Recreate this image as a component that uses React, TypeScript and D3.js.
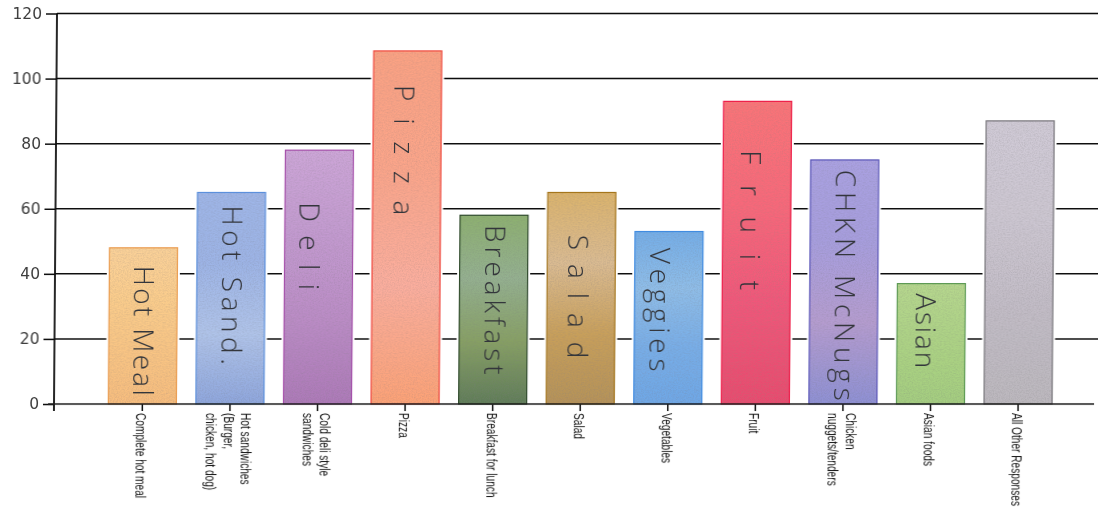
import React, { useEffect, useRef } from "react";
import * as d3 from "d3";

const categories = [
  ["Complete hot meal"],
  ["Hot sandwiches", "(Burger,", "chicken, hot dog)"],
  ["Cold deli style", "sandwiches"],
  ["Pizza"],
  ["Breakfast for lunch"],
  ["Salad"],
  ["Vegetables"],
  ["Fruit"],
  ["Chicken", "nuggets/tenders"],
  ["Asian foods"],
  ["All Other Responses"],
];
const values = [48, 65, 78, 108.5, 58, 65, 53, 93, 75, 37, 87];
const yTicks = [0, 20, 40, 60, 80, 100, 120];
const handNotes = ["Hot Meal", "Hot Sand.", "Deli", "Pizza", "Breakfast", "Salad", "Veggies", "Fruit", "CHKN McNugs", "Asian", ""];

// hand written labels: offset from bar center, from/to in y axis units
const noteDx = [2, 2, -8, -2, 2, -2, -8, -5, 2, -4, 0];
const noteFrom = [42.5, 61, 62, 98, 55, 52, 48, 78, 72, 34, 0];
const noteTo = [2.5, 12, 35, 58, 9, 14, 10, 35, 1, 11, 0];

// top to bottom colour bands of each marker-coloured bar
const barStops = [
  ["#fad199", "#fbcd8c", "#f9c584", "#f7bd7e"],
  ["#9fb6e8", "#9db4e6", "#b0c4ea", "#8ea6dd"],
  ["#cda6d8", "#c39ad0", "#bb8cc6", "#ad79b8"],
  ["#fba283", "#fba58a", "#fbae9e", "#fca276"],
  ["#8db070", "#94b090", "#87a064", "#5f7c58"],
  ["#dcb46c", "#dabb92", "#c9a05a", "#b59258"],
  ["#74aee8", "#8fbde8", "#78aee8", "#6ea7e6"],
  ["#fa7478", "#f8687a", "#f0567a", "#e84a6e"],
  ["#aaa1e2", "#a79ede", "#b59cd0", "#8e90d4"],
  ["#b6d78e", "#b0d488", "#aad282", "#a4cd80"],
  ["#d0cad6", "#cdc7d2", "#c2bcc6", "#bcb8be"],
];
const barEdges = ["#ea9c50", "#5c90dc", "#a550aa", "#ef4a40", "#2f4a2c", "#a5761f", "#3f8be0", "#ee1f4a", "#5a55b8", "#5d9a55", "#77757a"];

const App = () => {
  const chartRef = useRef<SVGSVGElement | null>(null);

  useEffect(() => {
    if (!chartRef.current) return;
    const svg = d3.select(chartRef.current);
    svg.selectAll("*").remove();

    const width = 1098;
    const axisLeft = 54;
    const baseY = 404;

    const xScale = d3
      .scaleBand<number>()
      .domain(values.map((_, i) => i))
      .range([98.7, 1061.7])
      .paddingInner(0.223)
      .paddingOuter(0.11);
    const yScale = d3.scaleLinear().domain([0, 120]).range([baseY, 13.5]);

    const defs = svg.append("defs");
    const scan = defs.append("filter").attr("id", "scan");
    scan.append("feGaussianBlur").attr("stdDeviation", 0.35);

    const grain = defs.append("filter").attr("id", "grain").attr("x", 0).attr("y", 0).attr("width", 1).attr("height", 1);
    grain
      .append("feTurbulence")
      .attr("type", "fractalNoise")
      .attr("baseFrequency", 0.75)
      .attr("numOctaves", 2)
      .attr("seed", 4)
      .attr("result", "n");
    grain
      .append("feColorMatrix")
      .attr("in", "n")
      .attr("type", "matrix")
      .attr("values", "0 0 0 0 0.2  0 0 0 0 0.2  0 0 0 0 0.2  0 0 0 0.55 -0.2")
      .attr("result", "spots");
    grain.append("feComposite").attr("in", "spots").attr("in2", "SourceGraphic").attr("operator", "in").attr("result", "clipped");
    const merge = grain.append("feMerge");
    merge.append("feMergeNode").attr("in", "SourceGraphic");
    merge.append("feMergeNode").attr("in", "clipped");

    barStops.forEach((stops, i) => {
      const grad = defs
        .append("linearGradient")
        .attr("id", `bar-${i}`)
        .attr("x1", 0)
        .attr("x2", 0)
        .attr("y1", 0)
        .attr("y2", 1);
      stops.forEach((c, j) => {
        grad
          .append("stop")
          .attr("offset", j / (stops.length - 1))
          .attr("stop-color", c);
      });
    });

    // the page was scanned slightly crooked, top leans to the right
    const g = svg
      .append("g")
      .attr("filter", "url(#scan)")
      .attr("transform", `matrix(1,0,-0.0077,1,${0.0077 * baseY},0)`);

    // Y axis and grid
    const yAxis = g
      .append("g")
      .attr("transform", `translate(${axisLeft}, 0)`)
      .call(d3.axisLeft(yScale).tickValues(yTicks).tickSize(11).tickSizeOuter(0).tickPadding(4))
      .attr("color", "#111");
    yAxis.select(".domain").remove();
    yAxis
      .selectAll(".tick text")
      .attr("font-family", "DejaVu Sans")
      .attr("font-size", 15.5)
      .attr("fill", "#3c3c3c");
    yAxis.selectAll(".tick line").attr("stroke-width", 1.5);

    g.append("g")
      .selectAll(".grid")
      .data(yTicks.filter((d) => d > 0))
      .enter()
      .append("line")
      .attr("class", "grid")
      .attr("x1", axisLeft)
      .attr("x2", width)
      .attr("y1", (d) => yScale(d))
      .attr("y2", (d) => yScale(d))
      .attr("stroke", "#111")
      .attr("stroke-width", 1.5);

    g.append("line")
      .attr("x1", axisLeft)
      .attr("x2", axisLeft)
      .attr("y1", yScale(120))
      .attr("y2", baseY + 7)
      .attr("stroke", "#111")
      .attr("stroke-width", 1.8);

    // Bars, white halo first so the grid stops short of them
    g.append("g")
      .selectAll("rect")
      .data(values)
      .enter()
      .append("rect")
      .attr("x", (_, i) => xScale(i)!)
      .attr("y", (d) => yScale(d))
      .attr("width", xScale.bandwidth())
      .attr("height", (d) => baseY - yScale(d))
      .attr("fill", "#fff")
      .attr("stroke", "#fff")
      .attr("stroke-width", 5);

    g.append("g")
      .selectAll("rect")
      .data(values)
      .enter()
      .append("rect")
      .attr("x", (_, i) => xScale(i)!)
      .attr("y", (d) => yScale(d))
      .attr("width", xScale.bandwidth())
      .attr("height", (d) => baseY - yScale(d))
      .attr("fill", (_, i) => `url(#bar-${i})`)
      .attr("filter", "url(#grain)");

    g.append("g")
      .selectAll("rect")
      .data(values)
      .enter()
      .append("rect")
      .attr("x", (_, i) => xScale(i)!)
      .attr("y", (d) => yScale(d))
      .attr("width", xScale.bandwidth())
      .attr("height", (d) => baseY - yScale(d))
      .attr("fill", "none")
      .attr("stroke", (_, i) => barEdges[i])
      .attr("stroke-width", 1.2);

    // Hand written names on the bars
    g.append("g")
      .selectAll("text")
      .data(handNotes.filter((d) => d))
      .enter()
      .append("text")
      .text((d) => d)
      .attr(
        "transform",
        (_, i) => `translate(${xScale(i)! + xScale.bandwidth() / 2 + noteDx[i]}, ${yScale(noteFrom[i])}) rotate(90)`,
      )
      .attr("dominant-baseline", "central")
      .attr("textLength", (_, i) => yScale(noteTo[i]) - yScale(noteFrom[i]))
      .attr("lengthAdjust", "spacing")
      .attr("font-family", "Open Sans")
      .attr("font-weight", 300)
      .attr("font-size", 28)
      .attr("fill", "#33353a");

    // X axis
    const xAxis = g
      .append("g")
      .attr("transform", `translate(0, ${baseY})`)
      .call(
        d3
          .axisBottom(xScale)
          .tickSize(7)
          .tickSizeOuter(0)
          .tickFormat(() => ""),
      )
      .attr("color", "#111");
    xAxis.select(".domain").remove();
    xAxis.selectAll(".tick line").attr("stroke-width", 1.5);

    g.append("line")
      .attr("x1", axisLeft - 6)
      .attr("x2", width - 4)
      .attr("y1", baseY)
      .attr("y2", baseY)
      .attr("stroke", "#222")
      .attr("stroke-width", 1.6);

    // rotated label text, squeezed along its length like the narrow original
    const lineGap = 17.5;
    xAxis
      .selectAll<SVGTextElement, number>(".tick text")
      .attr("transform", "translate(0, 9) rotate(90) scale(0.7, 1)")
      .attr("text-anchor", "start")
      .attr("x", 0)
      .attr("y", 0)
      .attr("dy", 0)
      .attr("font-family", "Liberation Sans")
      .attr("font-size", 14.5)
      .attr("fill", "#111")
      .each(function (d) {
        const lines = categories[d];
        const el = d3.select(this);
        lines.forEach((line, j) => {
          el.append("tspan")
            .attr("x", 0)
            .attr("y", (j - (lines.length - 1) / 2) * lineGap + 6)
            .text(line);
        });
      });
  }, []);

  return (
    <svg
      ref={chartRef}
      width={1098}
      height={510}
      style={{ position: "absolute", left: 0, top: 0, display: "block", background: "#fff" }}
    ></svg>
  );
};

export default App;
